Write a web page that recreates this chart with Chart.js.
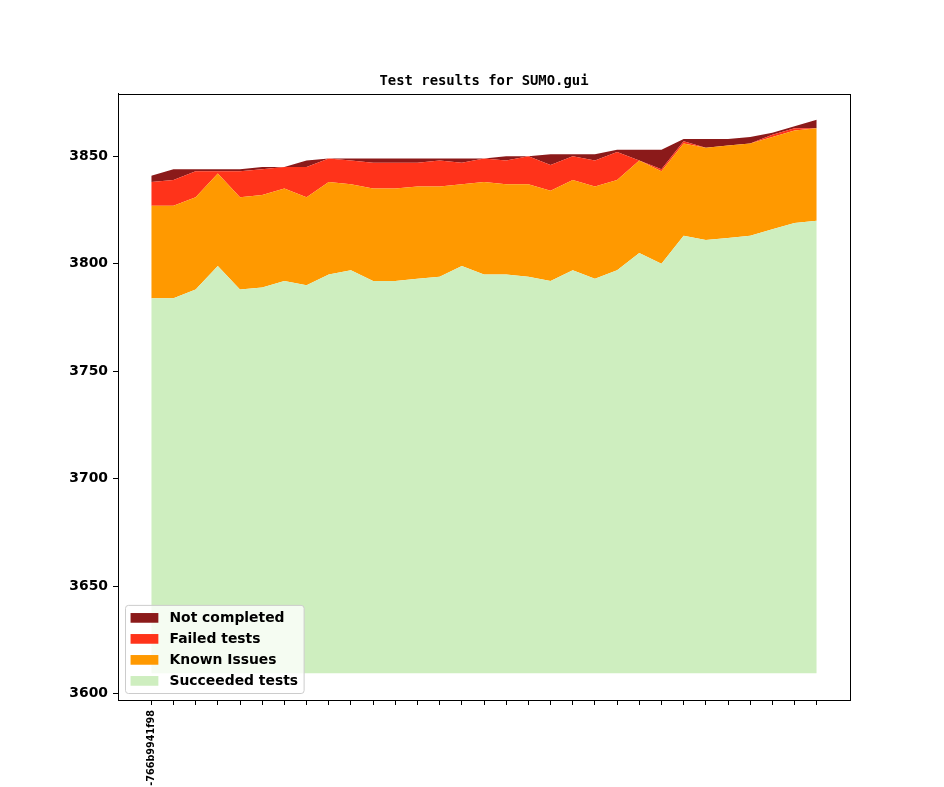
<!DOCTYPE html>
<html>
<head>
<meta charset="utf-8">
<title>Test results for SUMO.gui</title>
<script src="https://cdn.jsdelivr.net/npm/chart.js@4.4.1/dist/chart.umd.min.js"></script>
<style>
  html, body { margin: 0; padding: 0; background: #fff; }
  #wrap { width: 944px; height: 787px; }
</style>
</head>
<body>
<div id="wrap"><canvas id="testChart" width="944" height="787"></canvas></div>
<script>
// one entry per build, only the first one carries a label
var builds = ["-766b9941f98", "", "", "", "", "", "", "", "", "", "", "", "", "", "", "", "", "", "", "", "", "", "", "", "", "", "", "", "", "", ""];

var succeeded = [3784, 3784, 3788, 3799, 3788, 3789, 3792, 3790, 3795, 3797, 3792, 3792, 3793, 3794, 3799, 3795,
                 3795, 3794, 3792, 3797, 3793, 3797, 3805, 3800, 3813, 3811, 3812, 3813, 3816, 3819, 3820];
var knownIssues = [43, 43, 43, 43, 43, 43, 43, 41, 43, 40, 43, 43, 43, 42, 38, 43,
                   42, 43, 42, 42, 43, 42, 43, 43, 43, 43, 43, 43, 43, 43, 43];
var failed = [11, 12, 12, 1, 12, 12, 10, 14, 11, 11, 12, 12, 11, 12, 10, 11,
              11, 13, 12, 11, 12, 13, 0, 1, 1, 0, 0, 0, 1, 1, 0];
var notCompleted = [3, 5, 1, 1, 1, 1, 0, 3, 0, 1, 2, 2, 2, 1, 2, 0,
                    2, 0, 5, 1, 3, 1, 5, 9, 1, 4, 3, 3, 1, 1, 4];

var yTicks = [3600, 3650, 3700, 3750, 3800, 3850];
var baseline = 3609.4; // bottom of the green area

function points(arr) {
    return arr.map(function(v, i) { return {x: i, y: v}; });
}

//frame round the plot area, like the matplotlib axes box
var framePlugin = {
    id: 'frame',
    afterDatasetsDraw: function(chart) {
        var a = chart.chartArea, ctx = chart.ctx;
        ctx.save();
        ctx.strokeStyle = '#000';
        ctx.lineWidth = 1;
        ctx.strokeRect(Math.round(a.left) + 0.5, Math.round(a.top) + 0.5,
                       Math.round(a.right - a.left), Math.round(a.bottom - a.top));
        ctx.restore();
    }
};

//legend drawn inside the plot, lower left
var insideLegend = {
    id: 'insideLegend',
    afterDraw: function(chart) {
        var ctx = chart.ctx, a = chart.chartArea;
        var fs = 13.9;
        var items = chart.data.datasets.slice().reverse();
        ctx.save();
        ctx.font = 'bold ' + fs + 'px "DejaVu Sans"';
        var maxW = 0;
        items.forEach(function(d) { maxW = Math.max(maxW, ctx.measureText(d.label).width); });
        var pad = 0.4 * fs, handle = 2 * fs, gap = 0.8 * fs, rowH = 21;
        var w = pad + handle + gap + maxW + pad;
        var h = pad + rowH * items.length + pad - 7;
        var x0 = a.left + 7, y0 = a.bottom - 7 - h;
        ctx.beginPath();
        if (ctx.roundRect) ctx.roundRect(x0 + 0.5, y0 + 0.5, w, h, 3); else ctx.rect(x0 + 0.5, y0 + 0.5, w, h);
        ctx.fillStyle = 'rgba(255,255,255,0.8)';
        ctx.fill();
        ctx.strokeStyle = '#cccccc';
        ctx.lineWidth = 1;
        ctx.stroke();
        items.forEach(function(d, i) {
            var cy = y0 + pad + 7.5 + i * rowH;
            ctx.fillStyle = d.backgroundColor;
            ctx.fillRect(x0 + pad, cy - 4.9, handle, 9.7);
            ctx.fillStyle = '#000';
            ctx.textBaseline = 'middle';
            ctx.textAlign = 'left';
            ctx.fillText(d.label, x0 + pad + handle + gap, cy);
        });
        ctx.restore();
    }
};

var ctx = document.getElementById('testChart').getContext('2d');
var testChart = new Chart(ctx, {
    type: 'line',
    data: {
        datasets: [{
            label: 'Succeeded tests',
            data: points(succeeded),
            backgroundColor: '#ceeebf',
            fill: {value: baseline}
        }, {
            label: 'Known Issues',
            data: points(knownIssues),
            backgroundColor: '#ff9900',
            fill: '-1'
        }, {
            label: 'Failed tests',
            data: points(failed),
            backgroundColor: '#ff331a',
            fill: '-1'
        }, {
            label: 'Not completed',
            data: points(notCompleted),
            backgroundColor: '#8b1a1a',
            fill: '-1'
        }] //end datasets
    }, //end data
    options: {
        responsive: false,
        animation: false,
        devicePixelRatio: 1,
        layout: { padding: { left: 0, right: 94, top: 0, bottom: 0 } },
        elements: {
            line: { borderWidth: 0, tension: 0 },
            point: { radius: 0 }
        },
        plugins: {
            legend: { display: false },
            tooltip: { enabled: false },
            filler: { propagate: false },
            title: {
                display: true,
                fullSize: false,
                text: 'Test results for SUMO.gui',
                color: '#000',
                font: { family: '"DejaVu Sans Mono"', size: 13.9, weight: 'bold', lineHeight: 1.2 },
                padding: { top: 73.2, bottom: 4.1 }
            }
        },
        scales: {
            x: {
                type: 'linear',
                min: -1.5,
                max: builds.length - 1 + 1.5,
                afterBuildTicks: function(scale) {
                    scale.ticks = builds.map(function(b, i) { return {value: i}; });
                },
                afterFit: function(scale) { scale.height = 87; },
                grid: { drawOnChartArea: false, drawTicks: true, tickLength: 5, color: '#000' },
                border: { display: true, color: '#000' },
                ticks: {
                    autoSkip: false,
                    minRotation: 90,
                    maxRotation: 90,
                    padding: 5,
                    color: '#000',
                    font: { family: '"DejaVu Sans"', size: 9.7, weight: 'bold' },
                    callback: function(value) { return builds[value] || ''; }
                }
            },
            y: {
                stacked: true,
                min: 3597,
                max: 3879,
                afterBuildTicks: function(scale) {
                    scale.ticks = yTicks.map(function(v) { return {value: v}; });
                },
                afterFit: function(scale) { scale.width = 118; },
                grid: { drawOnChartArea: false, drawTicks: true, tickLength: 5, color: '#000' },
                border: { display: true, color: '#000' },
                ticks: {
                    padding: 5,
                    color: '#000',
                    font: { family: '"DejaVu Sans"', size: 13.9, weight: 'bold' },
                    callback: function(value) { return String(value); }
                }
            }
        }
    }, //end options
    plugins: [framePlugin, insideLegend]
}); //end testChart
</script>
</body>
</html>
